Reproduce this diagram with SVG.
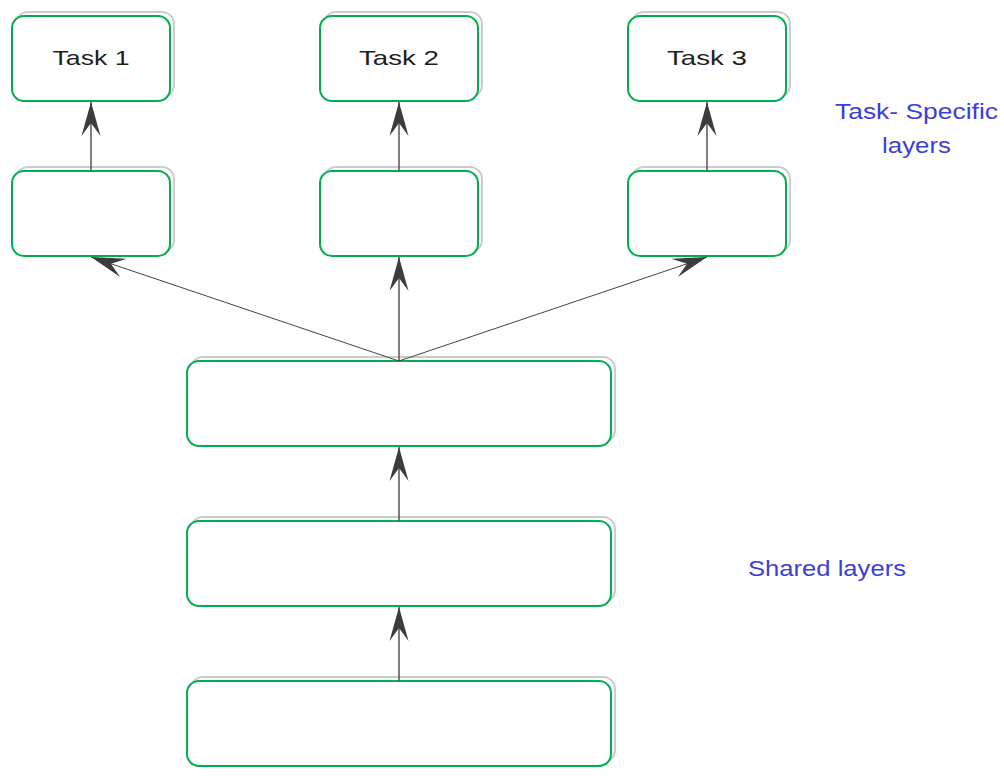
<svg xmlns="http://www.w3.org/2000/svg" width="1004" height="778" viewBox="0 0 1004 778">
<style>
.sh{fill:none;stroke:#cccccc;stroke-width:2}
.bx{fill:#ffffff;stroke:#00b050;stroke-width:2}
.lbl{font-family:"Liberation Sans",sans-serif;font-size:21px;fill:#1e1e1e;text-anchor:middle}
.note{font-family:"Liberation Sans",sans-serif;font-size:22px;fill:#3d3ddb}
.v{stroke:#555555;stroke-width:1.5;fill:none}
.d{stroke:#444444;stroke-width:1;fill:none}
</style>
<defs>
<marker id="ah" viewBox="-34 -10 36 20" refX="0" refY="0" markerWidth="36" markerHeight="20" markerUnits="userSpaceOnUse" orient="auto">
<path d="M0,0 L-34,-9.5 L-21,0 L-34,9.5 Z" fill="#3c3c3c"/>
</marker>
</defs>
<rect width="1004" height="778" fill="#ffffff"/>
<g id="task1"><rect class="sh" x="16" y="12" width="158" height="85" rx="12"/><rect class="bx" x="12" y="16" width="158" height="85" rx="12"/><text class="lbl" x="91" y="65" textLength="77" lengthAdjust="spacingAndGlyphs">Task 1</text></g>
<g id="task2"><rect class="sh" x="324" y="12" width="158" height="85" rx="12"/><rect class="bx" x="320" y="16" width="158" height="85" rx="12"/><text class="lbl" x="399" y="65" textLength="80" lengthAdjust="spacingAndGlyphs">Task 2</text></g>
<g id="task3"><rect class="sh" x="632" y="12" width="158" height="85" rx="12"/><rect class="bx" x="628" y="16" width="158" height="85" rx="12"/><text class="lbl" x="707" y="65" textLength="80" lengthAdjust="spacingAndGlyphs">Task 3</text></g>
<g id="spec1"><rect class="sh" x="16" y="167" width="158" height="85" rx="12"/><rect class="bx" x="12" y="171" width="158" height="85" rx="12"/></g>
<g id="spec2"><rect class="sh" x="324" y="167" width="158" height="85" rx="12"/><rect class="bx" x="320" y="171" width="158" height="85" rx="12"/></g>
<g id="spec3"><rect class="sh" x="632" y="167" width="158" height="85" rx="12"/><rect class="bx" x="628" y="171" width="158" height="85" rx="12"/></g>
<g id="shared1"><rect class="sh" x="191" y="357" width="424" height="85" rx="12"/><rect class="bx" x="187" y="361" width="424" height="85" rx="12"/></g>
<g id="shared2"><rect class="sh" x="191" y="517" width="424" height="85" rx="12"/><rect class="bx" x="187" y="521" width="424" height="85" rx="12"/></g>
<g id="shared3"><rect class="sh" x="191" y="677" width="424" height="85" rx="12"/><rect class="bx" x="187" y="681" width="424" height="85" rx="12"/></g>
<g id="connectors">
<line class="v" x1="91" y1="171" x2="91" y2="102" marker-end="url(#ah)"/>
<line class="v" x1="399" y1="171" x2="399" y2="102" marker-end="url(#ah)"/>
<line class="v" x1="707" y1="171" x2="707" y2="102" marker-end="url(#ah)"/>
<line class="d" x1="399" y1="361" x2="91" y2="257" marker-end="url(#ah)"/>
<line class="v" x1="399" y1="361" x2="399" y2="257" marker-end="url(#ah)"/>
<line class="d" x1="399" y1="361" x2="707" y2="257" marker-end="url(#ah)"/>
<line class="v" x1="399" y1="521" x2="399" y2="447" marker-end="url(#ah)"/>
<line class="v" x1="399" y1="681" x2="399" y2="607" marker-end="url(#ah)"/>
</g>
<g id="notes">
<text class="note" x="835" y="119" textLength="163" lengthAdjust="spacingAndGlyphs">Task- Specific</text>
<text class="note" x="882" y="153" textLength="69" lengthAdjust="spacingAndGlyphs">layers</text>
<text class="note" x="748" y="576" textLength="158" lengthAdjust="spacingAndGlyphs">Shared layers</text>
</g>
</svg>
